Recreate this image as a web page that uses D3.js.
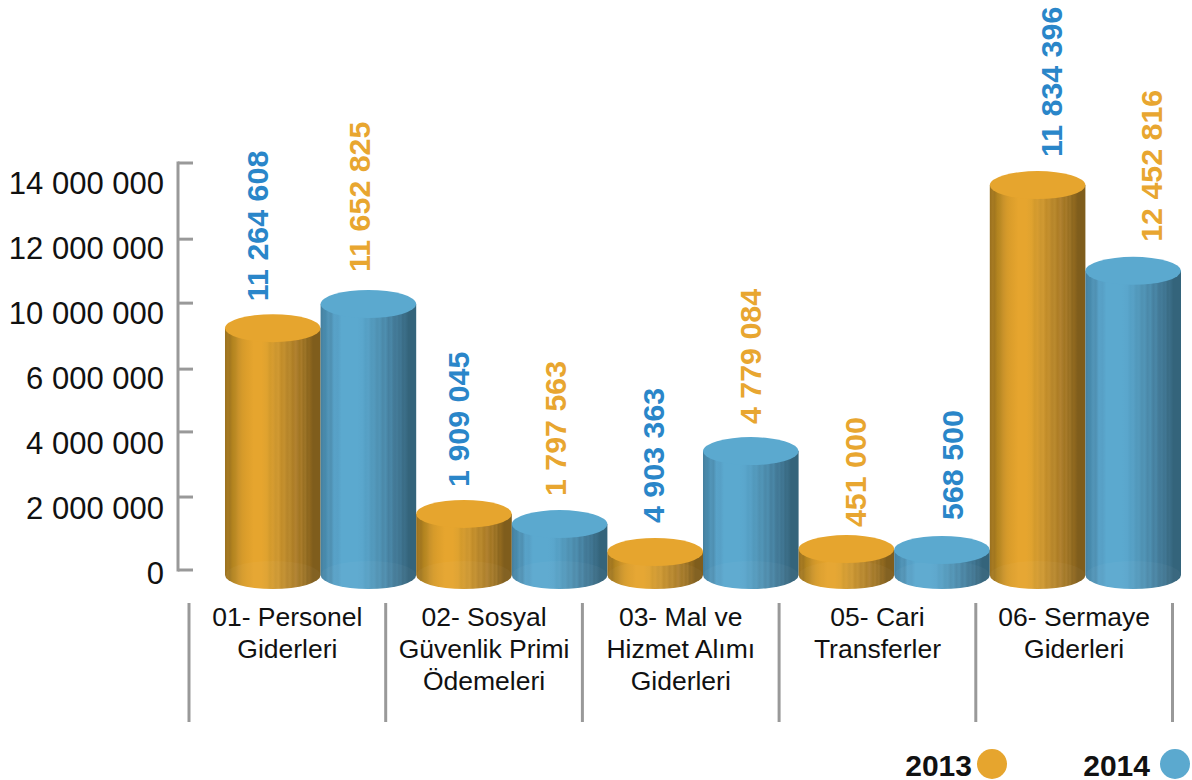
<!DOCTYPE html>
<html>
<head>
<meta charset="utf-8">
<script src="https://cdn.jsdelivr.net/npm/d3@7"></script>
<style>
	html, body { margin: 0; background: #fff; }
	svg { display: block; }
	text { font-family: "Liberation Sans", Arial, sans-serif; }
</style>
</head>
<body>
<svg id="chart" width="1192" height="780"></svg>
<script>
const WIDTH = 1192;
const HEIGHT = 780;

const categories = [
	["01- Personel", "Giderleri"],
	["02- Sosyal", "Güvenlik Primi", "Ödemeleri"],
	["03- Mal ve", "Hizmet Alımı", "Giderleri"],
	["05- Cari", "Transferler"],
	["06- Sermaye", "Giderleri"],
];
const years = ["2013", "2014"];

// printed figures, they do not follow the drawn heights in the original
const labels2013 = ["11 264 608", "1 909 045", "4 903 363", "451 000", "11 834 396"];
const labels2014 = ["11 652 825", "1 797 563", "4 779 084", "568 500", "12 452 816"];

// heights
const heights2013 = [8320000, 1930000, 620000, 720000, 13240000];
const heights2014 = [9150000, 1580000, 4090000, 690000, 10290000];

// the axis ticks are unevenly spaced in the picture, and 8 000 000 is missing
const axisTicks = [0, 2510000, 4750000, 6910000, 9180000, 11380000, 14000000];
const axisLabels = ["0", "2 000 000", "4 000 000", "6 000 000", "10 000 000", "12 000 000", "14 000 000"];

const stripeOffsets = [0, 3, 5, 8, 11, 14, 18, 22, 30, 38, 44, 47, 50, 53, 56, 59, 62, 65, 68, 71, 74, 76, 78, 80, 82, 84, 86, 88, 92, 100];
const shade2013 = ["#99701f", "#a67a22", "#a2771f", "#b3841f", "#bb8a24", "#c9922a", "#d59a2a", "#dc9e2b", "#e6a52e", "#e6a52e", "#dfa22f", "#d39a2c", "#d69c30", "#cc962f", "#d09932", "#c18c29", "#c4902f", "#b6852a", "#ba8a2e", "#ad7d25", "#b28230", "#a87b2b", "#a27622", "#a87b2b", "#997022", "#9e7528", "#8c671f", "#91691f", "#7f5d1c", "#7f5d1c"];
const shade2014 = ["#437f9e", "#4a88a9", "#478aac", "#5295b8", "#4f90b2", "#58a2c8", "#57a0c6", "#5ba9cf", "#5ba9cf", "#5ba9cf", "#5aa6cc", "#55a0c5", "#58a1c6", "#5299bc", "#549abd", "#4f91b2", "#5195b7", "#4b89a9", "#4e8fb0", "#46809f", "#4a87a7", "#447c99", "#427896", "#447c99", "#3f7490", "#417794", "#3a6c85", "#3c6f89", "#34647b", "#34647b"];

// placement of the rotated labels, which sit unevenly in the picture
const labelNudgeX = [-2, 1, 1, -2, -3, -5, 1, -2, -2, -1];
const labelNudgeY = [2, -3, 2, 1, 0, 2, 7, -1, 1, 0];

const svg = d3.select("#chart");
const defs = svg.append("defs");

const seriesStyle = [
	{ id: "grad2013", top: "#e6a52e", label: "#e8a630", shades: shade2013 },
	{ id: "grad2014", top: "#5ba9cf", label: "#2a86c9", shades: shade2014 },
];

seriesStyle.forEach(s => {
	defs.append("linearGradient")
		.attr("id", s.id)
		.selectAll("stop")
		.data(stripeOffsets)
		.join("stop")
		.attr("offset", d => d + "%")
		.attr("stop-color", (d, i) => s.shades[i]);
});

const yScale = d3.scaleLinear([0, 14000000], [570, 163]);
const BASE_DROP = 5; // cylinder base sits a little under the zero tick
const RY = 14;

const groupScale = d3.scaleBand(d3.range(categories.length), [225, 1181]);
const barWidth = groupScale.bandwidth() / 2;
const RX = barWidth / 2;

const catScale = d3.scaleBand(d3.range(categories.length), [189, 1172.5]);
const valueLabelScale = d3.scalePoint(d3.range(10), [259, 1152]);
const tickLabelScale = d3.scalePoint(axisLabels, [573, 183]);

// y axis
const axisColor = "#999999";
const axisG = svg.append("g");
axisG.append("line")
	.attr("x1", 178).attr("x2", 178)
	.attr("y1", yScale(14000000) - 1.5).attr("y2", yScale(0) + 1.5)
	.attr("stroke", axisColor).attr("stroke-width", 3);
axisG.selectAll(".tick")
	.data(axisTicks)
	.join("line")
	.attr("class", "tick")
	.attr("x1", 178).attr("x2", 193)
	.attr("y1", d => yScale(d)).attr("y2", d => yScale(d))
	.attr("stroke", axisColor).attr("stroke-width", 3);
axisG.selectAll(".tick-label")
	.data(axisLabels)
	.join("text")
	.attr("class", "tick-label")
	.attr("x", 164)
	.attr("y", d => tickLabelScale(d))
	.attr("dy", "0.36em")
	.attr("text-anchor", "end")
	.attr("font-size", 31)
	.attr("fill", "#111")
	.text(d => d);

// cylinders
const bars = [];
categories.forEach((c, i) => {
	bars.push({ i, s: 0, value: heights2013[i] });
	bars.push({ i, s: 1, value: heights2014[i] });
});

const barG = svg.selectAll(".bar")
	.data(bars)
	.join("g")
	.attr("class", "bar")
	.attr("transform", d => `translate(${groupScale(d.i) + d.s * barWidth + RX},0)`);

barG.append("path")
	.attr("d", d => {
		const top = yScale(d.value);
		const base = yScale(0) + BASE_DROP;
		return `M${-RX},${top}L${-RX},${base}A${RX},${RY} 0 0 0 ${RX},${base}L${RX},${top}Z`;
	})
	.attr("fill", d => `url(#${seriesStyle[d.s].id})`);

// faint back rim of the base, seen through the body
barG.append("path")
	.attr("d", () => {
		const base = yScale(0) + BASE_DROP;
		return `M${-RX},${base}A${RX},${RY} 0 0 1 ${RX},${base}A${RX},${RY} 0 0 1 ${-RX},${base}Z`;
	})
	.attr("fill", "#fff")
	.attr("opacity", 0.03);

barG.append("ellipse")
	.attr("cy", d => yScale(d.value))
	.attr("rx", RX)
	.attr("ry", RY)
	.attr("fill", d => seriesStyle[d.s].top);

// rotated value labels, in reading order across the chart.
// 2013 figures are blue and 2014 orange, except the 05 pair which is swapped
const valueLabels = bars.map((d, k) => ({
	k,
	text: (d.s === 0 ? labels2013 : labels2014)[d.i],
	value: d.value,
	color: seriesStyle[d.i === 3 ? d.s : 1 - d.s].label,
}));

svg.selectAll(".value-label")
	.data(valueLabels)
	.join("text")
	.attr("class", "value-label")
	.attr("transform", d => `translate(${valueLabelScale(d.k) + labelNudgeX[d.k]},${yScale(d.value) - 29 + labelNudgeY[d.k]}) rotate(-90)`)
	.attr("dy", "0.36em")
	.attr("font-size", 30.4)
	.attr("font-weight", "bold")
	.attr("fill", d => d.color)
	.text(d => d.text);

// category separators and names
svg.selectAll(".sep")
	.data(d3.range(categories.length + 1))
	.join("line")
	.attr("class", "sep")
	.attr("x1", d => catScale(0) + d * catScale.step())
	.attr("x2", d => catScale(0) + d * catScale.step())
	.attr("y1", 603).attr("y2", 722)
	.attr("stroke", axisColor).attr("stroke-width", 3);

const catG = svg.selectAll(".cat")
	.data(categories)
	.join("text")
	.attr("class", "cat")
	.attr("text-anchor", "middle")
	.attr("font-size", 26.5)
	.attr("fill", "#111");

catG.selectAll("tspan")
	.data((d, i) => d.map((line, j) => ({ line, j, i })))
	.join("tspan")
	.attr("x", d => catScale(d.i) + catScale.bandwidth() / 2)
	.attr("y", d => 626 + d.j * 32)
	.text(d => d.line);

// legend
const legendX = d3.scaleOrdinal(years, [972, 1150]);
const legendCx = d3.scaleOrdinal(years, [992, 1175]);
const legendG = svg.selectAll(".legend")
	.data(years)
	.join("g")
	.attr("class", "legend");
legendG.append("text")
	.attr("x", d => legendX(d))
	.attr("y", 775.5)
	.attr("text-anchor", "end")
	.attr("font-size", 30)
	.attr("font-weight", "bold")
	.attr("fill", "#111")
	.text(d => d);
legendG.append("circle")
	.attr("cx", d => legendCx(d))
	.attr("cy", 764)
	.attr("r", 15)
	.attr("fill", (d, i) => seriesStyle[i].top);
</script>
</body>
</html>
